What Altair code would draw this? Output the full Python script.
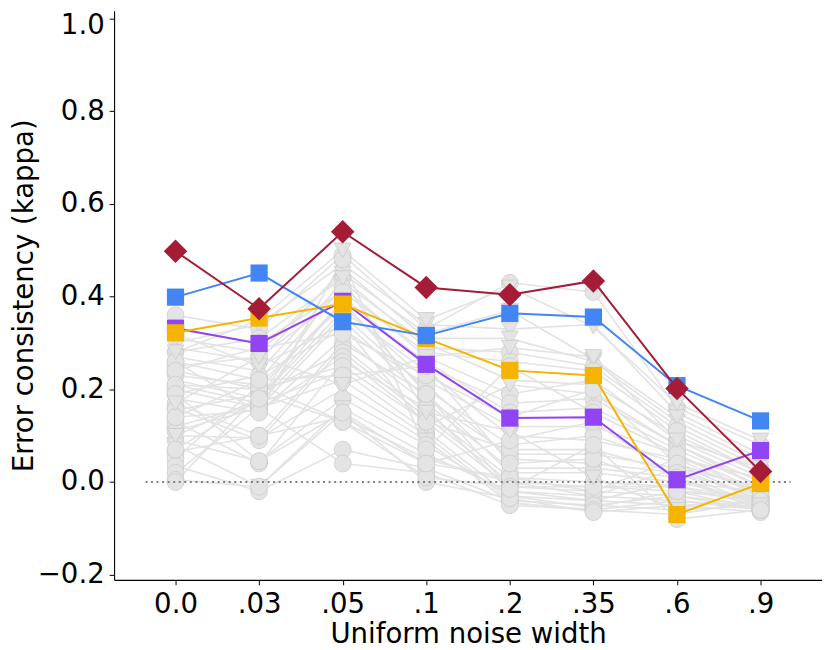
import json
import altair as alt
import pandas as pd

# ---------------- data ----------------
noise_labels = ["0.0", ".03", ".05", ".1", ".2", ".35", ".6", ".9"]

red_vals = [0.498, 0.374, 0.540, 0.420, 0.404, 0.434, 0.202, 0.023]
blue_vals = [0.399, 0.451, 0.346, 0.316, 0.364, 0.356, 0.208, 0.132]
yellow_vals = [0.322, 0.354, 0.384, 0.310, 0.241, 0.230, -0.070, -0.003]
purple_vals = [0.332, 0.299, 0.390, 0.254, 0.138, 0.140, 0.005, 0.068]

# other models (grey), one row per model, one value per noise width
grey_rows = [
    [0.36, 0.33, 0.49, 0.33, 0.43, 0.41, 0.16, 0.08],
    [0.30, 0.34, 0.47, 0.34, 0.33, 0.34, 0.15, 0.06],
    [0.29, 0.26, 0.46, 0.31, 0.31, 0.26, 0.13, 0.04],
    [0.28, 0.31, 0.44, 0.29, 0.28, 0.25, 0.12, 0.03],
    [0.27, 0.24, 0.43, 0.30, 0.22, 0.21, 0.10, 0.02],
    [0.26, 0.22, 0.42, 0.27, 0.19, 0.22, 0.09, 0.01],
    [0.25, 0.27, 0.40, 0.25, 0.17, 0.18, 0.08, 0.00],
    [0.24, 0.20, 0.39, 0.26, 0.15, 0.16, 0.07, -0.01],
    [0.23, 0.21, 0.38, 0.22, 0.12, 0.12, 0.06, -0.02],
    [0.22, 0.18, 0.37, 0.24, 0.10, 0.09, 0.05, -0.03],
    [0.21, 0.17, 0.36, 0.20, 0.08, 0.10, 0.04, -0.02],
    [0.20, 0.16, 0.35, 0.18, 0.06, 0.06, 0.03, -0.04],
    [0.19, 0.23, 0.33, 0.21, 0.05, 0.04, 0.02, -0.03],
    [0.18, 0.15, 0.31, 0.17, 0.03, 0.03, 0.01, -0.05],
    [0.17, 0.10, 0.30, 0.19, 0.02, 0.02, 0.00, -0.04],
    [0.16, 0.09, 0.29, 0.15, 0.01, 0.00, -0.01, -0.05],
    [0.155, 0.19, 0.28, 0.14, 0.00, -0.01, -0.02, -0.06],
    [0.14, 0.155, 0.27, 0.13, -0.01, -0.02, -0.03, -0.05],
    [0.13, 0.04, 0.26, 0.16, -0.02, -0.03, -0.04, -0.06],
    [0.12, 0.17, 0.24, 0.11, -0.03, -0.04, -0.05, -0.065],
    [0.11, 0.16, 0.22, 0.10, -0.04, -0.05, -0.06, -0.05],
    [0.10, 0.095, 0.20, 0.09, -0.045, -0.06, -0.07, -0.04],
    [0.09, 0.045, 0.18, 0.08, -0.03, -0.055, -0.02, -0.03],
    [0.08, -0.01, 0.16, 0.06, -0.02, -0.04, 0.00, -0.02],
    [0.065, 0.10, 0.14, 0.05, 0.00, -0.03, 0.03, -0.01],
    [0.05, 0.21, 0.13, 0.04, 0.01, -0.02, 0.05, 0.01],
    [0.035, -0.02, 0.07, 0.03, -0.04, -0.05, -0.03, -0.06],
    [0.02, 0.16, 0.04, 0.02, -0.05, -0.06, -0.04, -0.055],
    [0.005, -0.01, 0.15, 0.00, -0.035, -0.065, -0.05, -0.045],
    [0.00, 0.19, 0.13, 0.01, -0.01, -0.01, -0.01, -0.035],
    [0.31, 0.28, 0.45, 0.32, 0.37, 0.265, 0.14, 0.05],
    [0.33, 0.30, 0.41, 0.28, 0.26, 0.24, 0.11, 0.02],
    [0.32, 0.25, 0.34, 0.12, 0.21, 0.19, 0.08, -0.01],
    [0.26, 0.15, 0.48, 0.07, 0.25, 0.15, 0.06, -0.03],
    [0.24, 0.29, 0.32, 0.23, 0.14, 0.20, 0.04, -0.04],
    [0.21, 0.20, 0.25, 0.13, 0.07, 0.07, 0.02, -0.05],
    [0.19, 0.045, 0.15, 0.04, 0.09, 0.13, 0.01, -0.06],
    [0.14, 0.22, 0.23, 0.25, 0.04, 0.05, -0.02, -0.04],
    [0.10, 0.18, 0.44, 0.15, 0.11, 0.01, -0.06, -0.05],
    [0.07, 0.18, 0.39, 0.19, -0.015, 0.08, -0.08, -0.06],
    [0.28, 0.35, 0.50, 0.35, 0.42, 0.335, 0.17, 0.09],
    [0.17, 0.27, 0.21, 0.27, 0.29, 0.27, 0.09, 0.03],
]
grey_shapes = [
    "circle", "triangle-down", "triangle-down", "circle", "triangle-down", "circle",
    "circle", "circle", "circle", "triangle-down", "circle", "circle",
    "circle", "triangle-down", "circle", "circle", "circle", "circle",
    "circle", "circle", "circle", "triangle-down", "circle", "triangle-down",
    "circle", "circle", "circle", "circle", "circle", "circle",
    "triangle-down", "circle", "triangle-down", "circle", "circle", "circle",
    "circle", "circle", "triangle-down", "circle", "triangle-down", "triangle-down",
]

highlight_names = ["purple", "yellow", "blue", "red"]
highlight_vals = [purple_vals, yellow_vals, blue_vals, red_vals]
highlight_colors = ["#9044F2", "#F4B400", "#4285F4", "#A51C36"]
highlight_shapes = ["square", "square", "square", "diamond"]
highlight_sizes = [300, 300, 300, 560]

# ---------------- tables ----------------
grey_df = pd.DataFrame(
    [
        {"model": m, "xi": i, "kappa": v, "shape": grey_shapes[m]}
        for m, row in enumerate(grey_rows)
        for i, v in enumerate(row)
    ]
)
zero_df = pd.DataFrame([{"x": -0.36, "x2": 7.36, "y": 0.0}])

FONT = "DejaVu Sans"
FS = 27.8

x_enc = alt.X(
    "xi:Q",
    scale=alt.Scale(domain=[-0.735, 7.735], nice=False, zero=False),
    axis=alt.Axis(
        values=list(range(len(noise_labels))),
        labelExpr=json.dumps(noise_labels) + "[datum.value]",
        title="Uniform noise width",
        labelFontSize=FS,
        titleFontSize=FS,
        labelFont=FONT,
        titleFont=FONT,
        titleFontWeight="normal",
        labelColor="black",
        titleColor="black",
        tickColor="black",
        domainColor="black",
        tickSize=5,
        tickWidth=1,
        domainWidth=1.1,
        labelPadding=6,
        titlePadding=2,
        grid=False,
        labelFlush=False,
        labelOverlap=False,
    ),
)
y_enc = alt.Y(
    "kappa:Q",
    scale=alt.Scale(domain=[-0.211, 1.017], nice=False, zero=False),
    axis=alt.Axis(
        values=[-0.2, 0.0, 0.2, 0.4, 0.6, 0.8, 1.0],
        format=".1f",
        title="Error consistency (kappa)",
        labelFontSize=FS,
        titleFontSize=FS,
        labelFont=FONT,
        titleFont=FONT,
        titleFontWeight="normal",
        labelColor="black",
        titleColor="black",
        tickColor="black",
        domainColor="black",
        tickSize=5,
        tickWidth=1,
        domainWidth=1.1,
        labelPadding=5,
        labelOffset=alt.condition("datum.value >= 0.99", alt.value(7), alt.value(0)),
        grid=False,
        titleAngle=270,
        titleX=-82,
        titleBaseline="alphabetic",
    ),
)

grey_lines = (
    alt.Chart(grey_df)
    .mark_line(color="#e3e3e3", strokeWidth=1.6)
    .encode(x=x_enc, y=y_enc, detail="model:N", order="xi:Q")
)
grey_points = (
    alt.Chart(grey_df)
    .mark_point(filled=True, fill="#e4e4e4", stroke="#c8c8c8", strokeWidth=0.7, opacity=1, size=290)
    .encode(
        x=x_enc,
        y=y_enc,
        shape=alt.Shape(
            "shape:N",
            scale=alt.Scale(domain=["circle", "triangle-down"], range=["circle", "triangle-down"]),
            legend=None,
        ),
    )
)
zero_rule = (
    alt.Chart(zero_df)
    .mark_rule(color="#808080", strokeWidth=2, strokeDash=[2, 3.6])
    .encode(x="x:Q", x2="x2:Q", y="y:Q")
)

layers = [grey_lines, grey_points, zero_rule]
for name, vals, col, shp, sz in zip(
    highlight_names, highlight_vals, highlight_colors, highlight_shapes, highlight_sizes
):
    df = pd.DataFrame({"xi": list(range(len(vals))), "kappa": vals, "series": name})
    layers.append(
        alt.Chart(df).mark_line(color=col, strokeWidth=2).encode(x=x_enc, y=y_enc, order="xi:Q")
    )
    layers.append(
        alt.Chart(df)
        .mark_point(filled=True, shape=shp, size=sz, color=col, opacity=1, strokeWidth=0)
        .encode(x=x_enc, y=y_enc)
    )

chart = (
    alt.layer(*layers)
    .properties(
        width=714,
        height=574,
        autosize="none",
        background="white",
        padding={"left": 107, "top": 0, "right": 0, "bottom": 68},
    )
    .configure_view(stroke=None)
)

chart.save("out.html", embed_options={"renderer": "svg", "actions": False})
